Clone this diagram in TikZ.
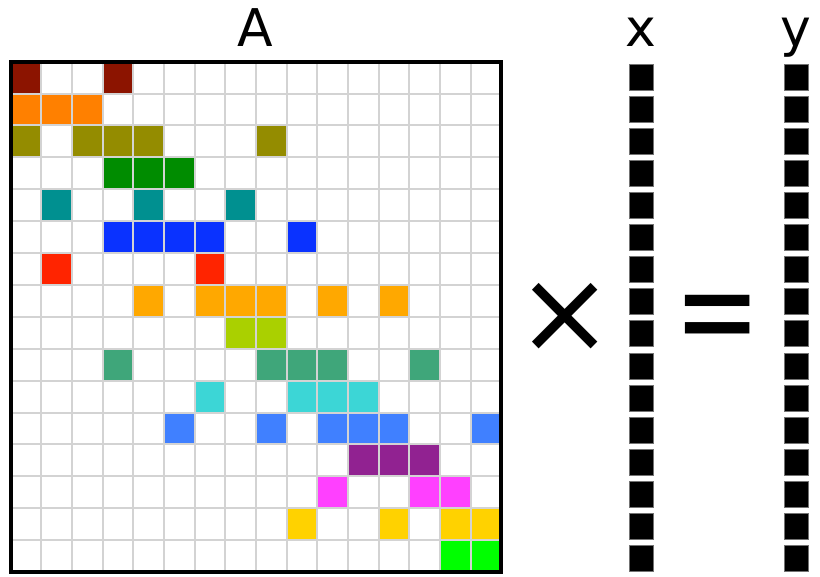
\documentclass[tikz,border=0pt]{standalone}
\usepackage{fontspec}
\setmainfont{DejaVu Sans}
\definecolor{cDarkRed}{HTML}{8C1400}
\definecolor{cOrange}{HTML}{FF8000}
\definecolor{cOlive}{HTML}{948C00}
\definecolor{cGreen}{HTML}{008C00}
\definecolor{cTeal}{HTML}{009090}
\definecolor{cBlue}{HTML}{0A32FF}
\definecolor{cRed}{HTML}{FF2400}
\definecolor{cAmber}{HTML}{FFA800}
\definecolor{cLime}{HTML}{AAD000}
\definecolor{cSea}{HTML}{3FA67A}
\definecolor{cCyan}{HTML}{3CD6D6}
\definecolor{cCorn}{HTML}{4080FF}
\definecolor{cPurple}{HTML}{912291}
\definecolor{cMagenta}{HTML}{FF40FF}
\definecolor{cGold}{HTML}{FFD200}
\definecolor{cBright}{HTML}{00FF00}
\definecolor{cGrid}{HTML}{D3D3D3}
\tikzset{
  gridline/.style={draw=cGrid, line width=2pt},
  frame/.style={draw=black, line width=4pt},
  vecsq/.style={fill=black, draw=black!55, line width=0.8pt},
  lbl/.style={font=\fontsize{52}{60}\selectfont, inner sep=0pt, anchor=base},
  opsym/.style={inner sep=0pt, anchor=center}
}
\begin{document}
\begin{tikzpicture}[x=1pt,y=-1pt]
\useasboundingbox (0,0) rectangle (820,577);
\def\L{10.5}\def\T{61.7}\def\cw{30.675}\def\ch{31.894}
% coloured cells: row/col/colour
\foreach \r/\c/\col in {
  0/0/cDarkRed,0/3/cDarkRed,
  1/0/cOrange,1/1/cOrange,1/2/cOrange,
  2/0/cOlive,2/2/cOlive,2/3/cOlive,2/4/cOlive,2/8/cOlive,
  3/3/cGreen,3/4/cGreen,3/5/cGreen,
  4/1/cTeal,4/4/cTeal,4/7/cTeal,
  5/3/cBlue,5/4/cBlue,5/5/cBlue,5/6/cBlue,5/9/cBlue,
  6/1/cRed,6/6/cRed,
  7/4/cAmber,7/6/cAmber,7/7/cAmber,7/8/cAmber,7/10/cAmber,7/12/cAmber,
  8/7/cLime,8/8/cLime,
  9/3/cSea,9/8/cSea,9/9/cSea,9/10/cSea,9/13/cSea,
  10/6/cCyan,10/9/cCyan,10/10/cCyan,10/11/cCyan,
  11/5/cCorn,11/8/cCorn,11/10/cCorn,11/11/cCorn,11/12/cCorn,11/15/cCorn,
  12/11/cPurple,12/12/cPurple,12/13/cPurple,
  13/10/cMagenta,13/13/cMagenta,13/14/cMagenta,
  14/9/cGold,14/12/cGold,14/14/cGold,14/15/cGold,
  15/14/cBright,15/15/cBright}{
  \fill[\col] ({\L+\c*\cw},{\T+\r*\ch}) rectangle ({\L+(\c+1)*\cw},{\T+(\r+1)*\ch});
}
% grid
\foreach \k in {1,...,15}{
  \draw[gridline] ({\L+\k*\cw},\T) -- ({\L+\k*\cw},{\T+16*\ch});
  \draw[gridline] (\L,{\T+\k*\ch}) -- ({\L+16*\cw},{\T+\k*\ch});
}
\draw[frame] (\L,\T) rectangle ({\L+16*\cw},{\T+16*\ch});
% vectors
\foreach \k in {0,...,15}{
  \draw[vecsq] ({641.5-12.3},{77.5+\k*32.05-13}) rectangle ({641.5+12.3},{77.5+\k*32.05+13});
  \draw[vecsq] ({796.5-12.3},{77.5+\k*32.05-13}) rectangle ({796.5+12.3},{77.5+\k*32.05+13});
}
% labels
\node[lbl] (labA) at (255,46.7) {A};
\node[lbl] (labx) at (641,47) {x};
\node[lbl] (laby) at (796,47) {y};
\node[opsym, font=\fontsize{116}{120}\selectfont] (times) at (565,317.5) {×};
\node[opsym, font=\fontsize{103}{110}\selectfont] (equals) at (718,326) {\scalebox{1}[1.33]{=}};
\end{tikzpicture}
\end{document}
